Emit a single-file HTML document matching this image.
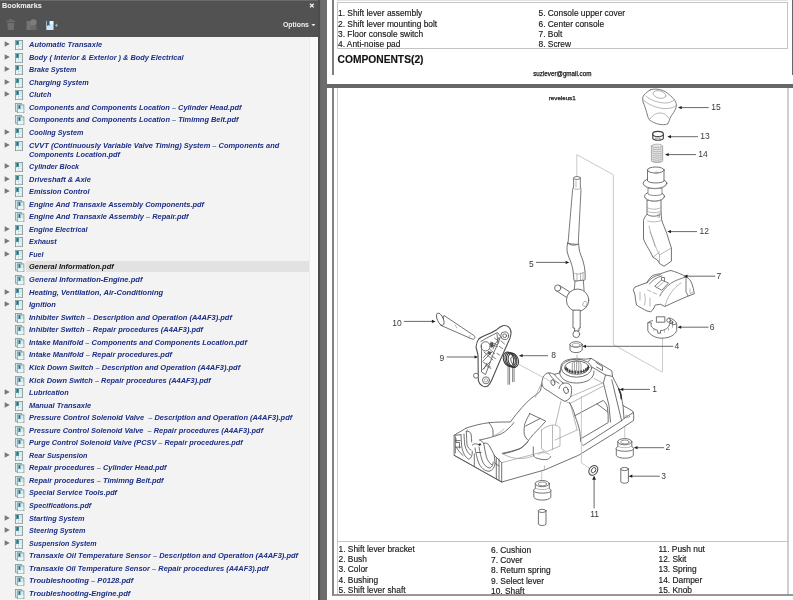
<!DOCTYPE html>
<html><head><meta charset="utf-8"><title>Bookmarks</title>
<style>
html,body{margin:0;padding:0;}
body{width:793px;height:600px;overflow:hidden;position:relative;background:#676767;font-family:"Liberation Sans",sans-serif;}
.abs{position:absolute;}
#hdr{left:0;top:0;width:318.2px;height:36.5px;background:#525252;}
#hdr .t{left:2px;top:0.5px;font-weight:bold;font-size:7.3px;color:#f4f4f4;line-height:10px;}
#hdr .o{left:282.6px;top:20.1px;font-weight:bold;font-size:7.3px;color:#f0f0f0;line-height:10px;transform:scaleX(0.94);transform-origin:0 50%;}
#pbody{left:0;top:36.5px;width:318.2px;height:563.5px;background:#f3f3f3;}
#sb{left:308.8px;top:36.5px;width:9.2px;height:563.5px;background:#fafafa;border-left:1px solid #ececec;box-sizing:border-box;}
#div1{left:317.9px;top:0;width:2.6px;height:600px;background:#4c4c4c;}
#div2{left:320.5px;top:0;width:6.9px;height:600px;background:#6c6c6c;}
#pg1{left:327.4px;top:0;width:465.6px;height:83.6px;background:#fff;}
#pg2{left:327.4px;top:88.3px;width:465.6px;height:511.7px;background:#fff;}
.bm{position:absolute;left:28.9px;white-space:pre;font-style:italic;font-weight:bold;font-size:7.5px;line-height:10px;height:10px;color:#1c2e85;transform-origin:0 50%;}
.ar{position:absolute;left:4.8px;width:0;height:0;border-left:5px solid #7b7b7b;border-top:2.7px solid transparent;border-bottom:2.7px solid transparent;}
.ic{position:absolute;left:15.3px;width:8px;height:10px;}
.dt{position:absolute;white-space:pre;color:#151515;-webkit-text-stroke:0.15px #222;font-size:8.4px;line-height:10px;transform-origin:0 50%;}
#w{position:absolute;left:0;top:0;width:793px;height:600px;overflow:hidden;filter:url(#pgb);}
</style></head><body>
<svg width="0" height="0" style="position:absolute"><defs><filter id="pgb" x="0" y="0" width="100%" height="100%" color-interpolation-filters="sRGB"><feGaussianBlur stdDeviation="0.45" edgeMode="duplicate"/></filter></defs></svg>
<div id="w">
<div id="hdr" class="abs"><div class="abs" style="left:0;top:0;width:319px;height:1px;background:#6a6a6a"></div><div class="abs t">Bookmarks</div><div class="abs o">Options</div>
<svg class="abs" style="left:0;top:0;width:319px;height:37px" viewBox="0 0 319 37">
<!-- trash -->
<g fill="#6f6f6f"><rect x="6.5" y="20.5" width="8.5" height="1.6"/><rect x="9.3" y="19" width="3" height="1.6"/><path d="M7.3 23h7l-0.5 7h-6z"/></g>
<!-- second icon -->
<g fill="#737373"><rect x="26.5" y="21" width="6" height="9"/><circle cx="33.5" cy="22.5" r="3.2" fill="#7d7d7d"/><rect x="30" y="26" width="6.5" height="4" fill="#6a6a6a"/></g>
<!-- new bookmark icon -->
<rect x="46.3" y="21" width="7.2" height="9" fill="#cfe6f7"/>
<path d="M47 21h2.6v5l-1.3-1.1-1.3 1.1z" fill="#2c5e86"/>
<rect x="49.8" y="21.2" width="3.3" height="3" fill="#eef7fd"/>
<path d="M56.5 23.8v3M55 25.3h3" stroke="#8fa9bd" stroke-width="1"/>
<!-- options arrow -->
<path d="M311.4 23.9h4l-2 2.3z" fill="#f0f0f0"/>
<!-- close x -->
<path d="M310 3.7l3.7 3.7M313.7 3.7l-3.7 3.7" stroke="#f2f2f2" stroke-width="1.3"/>
</svg>

</div>
<div id="pbody" class="abs"></div>
<div id="sb" class="abs"></div>
<div id="div1" class="abs"></div><div id="div2" class="abs"></div>
<div id="pg1" class="abs"></div><div id="pg2" class="abs"></div>

<div class="abs" style="left:26px;top:260.9px;width:283px;height:11px;background:#e2e2e2"></div>
<div class="bm" style="top:40.4px;transform:scaleX(0.9927)">Automatic Transaxle</div>
<svg class="abs" style="left:4px;top:41.4px;width:7px;height:6px" viewBox="0 0 7 6"><path d="M0.7 0.2L5.8 3L0.7 5.8z" fill="#787878"/></svg>
<svg class="ic" style="top:40.3px" viewBox="0 0 8 10"><defs></defs><rect x="0.4" y="0.4" width="7.2" height="9.2" fill="#d3ebee" stroke="#7f9396" stroke-width="0.8"/><rect x="1" y="5" width="6" height="4.2" fill="#e9f6f7"/><path d="M1.3 0.9h2.4v4.6l-1.2-1-1.2 1z" fill="#1f6f7d"/><rect x="3.4" y="6.2" width="3.2" height="2.2" fill="#fff" stroke="#a9c1c4" stroke-width="0.4"/></svg>
<div class="bm" style="top:52.9px;transform:scaleX(0.9814)">Body ( Interior &amp; Exterior ) &amp; Body Electrical</div>
<svg class="abs" style="left:4px;top:53.9px;width:7px;height:6px" viewBox="0 0 7 6"><path d="M0.7 0.2L5.8 3L0.7 5.8z" fill="#787878"/></svg>
<svg class="ic" style="top:52.8px" viewBox="0 0 8 10"><defs></defs><rect x="0.4" y="0.4" width="7.2" height="9.2" fill="#d3ebee" stroke="#7f9396" stroke-width="0.8"/><rect x="1" y="5" width="6" height="4.2" fill="#e9f6f7"/><path d="M1.3 0.9h2.4v4.6l-1.2-1-1.2 1z" fill="#1f6f7d"/><rect x="3.4" y="6.2" width="3.2" height="2.2" fill="#fff" stroke="#a9c1c4" stroke-width="0.4"/></svg>
<div class="bm" style="top:65.4px;transform:scaleX(0.9533)">Brake System</div>
<svg class="abs" style="left:4px;top:66.4px;width:7px;height:6px" viewBox="0 0 7 6"><path d="M0.7 0.2L5.8 3L0.7 5.8z" fill="#787878"/></svg>
<svg class="ic" style="top:65.3px" viewBox="0 0 8 10"><defs></defs><rect x="0.4" y="0.4" width="7.2" height="9.2" fill="#d3ebee" stroke="#7f9396" stroke-width="0.8"/><rect x="1" y="5" width="6" height="4.2" fill="#e9f6f7"/><path d="M1.3 0.9h2.4v4.6l-1.2-1-1.2 1z" fill="#1f6f7d"/><rect x="3.4" y="6.2" width="3.2" height="2.2" fill="#fff" stroke="#a9c1c4" stroke-width="0.4"/></svg>
<div class="bm" style="top:77.9px;transform:scaleX(0.9678)">Charging System</div>
<svg class="abs" style="left:4px;top:78.9px;width:7px;height:6px" viewBox="0 0 7 6"><path d="M0.7 0.2L5.8 3L0.7 5.8z" fill="#787878"/></svg>
<svg class="ic" style="top:77.8px" viewBox="0 0 8 10"><defs></defs><rect x="0.4" y="0.4" width="7.2" height="9.2" fill="#d3ebee" stroke="#7f9396" stroke-width="0.8"/><rect x="1" y="5" width="6" height="4.2" fill="#e9f6f7"/><path d="M1.3 0.9h2.4v4.6l-1.2-1-1.2 1z" fill="#1f6f7d"/><rect x="3.4" y="6.2" width="3.2" height="2.2" fill="#fff" stroke="#a9c1c4" stroke-width="0.4"/></svg>
<div class="bm" style="top:90.4px;transform:scaleX(0.9558)">Clutch</div>
<svg class="abs" style="left:4px;top:91.4px;width:7px;height:6px" viewBox="0 0 7 6"><path d="M0.7 0.2L5.8 3L0.7 5.8z" fill="#787878"/></svg>
<svg class="ic" style="top:90.3px" viewBox="0 0 8 10"><defs></defs><rect x="0.4" y="0.4" width="7.2" height="9.2" fill="#d3ebee" stroke="#7f9396" stroke-width="0.8"/><rect x="1" y="5" width="6" height="4.2" fill="#e9f6f7"/><path d="M1.3 0.9h2.4v4.6l-1.2-1-1.2 1z" fill="#1f6f7d"/><rect x="3.4" y="6.2" width="3.2" height="2.2" fill="#fff" stroke="#a9c1c4" stroke-width="0.4"/></svg>
<div class="bm" style="top:102.9px;transform:scaleX(0.9883)">Components and Components Location – Cylinder Head.pdf</div>
<svg class="abs" style="left:15.3px;top:102.5px;width:9.4px;height:10.2px" viewBox="0 0 9.4 10.2"><rect x="0.4" y="0.4" width="6" height="7.8" fill="#d8edf0" stroke="#7f9396" stroke-width="0.8"/><rect x="2.3" y="1.9" width="6.6" height="7.9" fill="#d3ebee" stroke="#7f9396" stroke-width="0.8"/><rect x="2.9" y="6" width="5.4" height="3.3" fill="#e9f6f7"/><path d="M3.5 2.3h1.9v4.2l-0.95-0.9-0.95 0.9z" fill="#1f6f7d"/></svg>
<div class="bm" style="top:115.4px;transform:scaleX(0.9889)">Components and Components Location – Timimng Belt.pdf</div>
<svg class="abs" style="left:15.3px;top:115.0px;width:9.4px;height:10.2px" viewBox="0 0 9.4 10.2"><rect x="0.4" y="0.4" width="6" height="7.8" fill="#d8edf0" stroke="#7f9396" stroke-width="0.8"/><rect x="2.3" y="1.9" width="6.6" height="7.9" fill="#d3ebee" stroke="#7f9396" stroke-width="0.8"/><rect x="2.9" y="6" width="5.4" height="3.3" fill="#e9f6f7"/><path d="M3.5 2.3h1.9v4.2l-0.95-0.9-0.95 0.9z" fill="#1f6f7d"/></svg>
<div class="bm" style="top:127.9px;transform:scaleX(0.9579)">Cooling System</div>
<svg class="abs" style="left:4px;top:128.9px;width:7px;height:6px" viewBox="0 0 7 6"><path d="M0.7 0.2L5.8 3L0.7 5.8z" fill="#787878"/></svg>
<svg class="ic" style="top:127.8px" viewBox="0 0 8 10"><defs></defs><rect x="0.4" y="0.4" width="7.2" height="9.2" fill="#d3ebee" stroke="#7f9396" stroke-width="0.8"/><rect x="1" y="5" width="6" height="4.2" fill="#e9f6f7"/><path d="M1.3 0.9h2.4v4.6l-1.2-1-1.2 1z" fill="#1f6f7d"/><rect x="3.4" y="6.2" width="3.2" height="2.2" fill="#fff" stroke="#a9c1c4" stroke-width="0.4"/></svg>
<div class="bm" style="top:140.9px;transform:scaleX(0.9922)">CVVT (Continuously Variable Valve Timing) System – Components and</div>
<svg class="abs" style="left:4px;top:141.9px;width:7px;height:6px" viewBox="0 0 7 6"><path d="M0.7 0.2L5.8 3L0.7 5.8z" fill="#787878"/></svg>
<svg class="ic" style="top:140.8px" viewBox="0 0 8 10"><defs></defs><rect x="0.4" y="0.4" width="7.2" height="9.2" fill="#d3ebee" stroke="#7f9396" stroke-width="0.8"/><rect x="1" y="5" width="6" height="4.2" fill="#e9f6f7"/><path d="M1.3 0.9h2.4v4.6l-1.2-1-1.2 1z" fill="#1f6f7d"/><rect x="3.4" y="6.2" width="3.2" height="2.2" fill="#fff" stroke="#a9c1c4" stroke-width="0.4"/></svg>
<div class="bm" style="top:149.9px;transform:scaleX(0.9794)">Components Location.pdf</div>
<div class="bm" style="top:162.4px;transform:scaleX(0.9539)">Cylinder Block</div>
<svg class="abs" style="left:4px;top:163.4px;width:7px;height:6px" viewBox="0 0 7 6"><path d="M0.7 0.2L5.8 3L0.7 5.8z" fill="#787878"/></svg>
<svg class="ic" style="top:162.3px" viewBox="0 0 8 10"><defs></defs><rect x="0.4" y="0.4" width="7.2" height="9.2" fill="#d3ebee" stroke="#7f9396" stroke-width="0.8"/><rect x="1" y="5" width="6" height="4.2" fill="#e9f6f7"/><path d="M1.3 0.9h2.4v4.6l-1.2-1-1.2 1z" fill="#1f6f7d"/><rect x="3.4" y="6.2" width="3.2" height="2.2" fill="#fff" stroke="#a9c1c4" stroke-width="0.4"/></svg>
<div class="bm" style="top:174.9px;transform:scaleX(0.9995)">Driveshaft &amp; Axle</div>
<svg class="abs" style="left:4px;top:175.9px;width:7px;height:6px" viewBox="0 0 7 6"><path d="M0.7 0.2L5.8 3L0.7 5.8z" fill="#787878"/></svg>
<svg class="ic" style="top:174.8px" viewBox="0 0 8 10"><defs></defs><rect x="0.4" y="0.4" width="7.2" height="9.2" fill="#d3ebee" stroke="#7f9396" stroke-width="0.8"/><rect x="1" y="5" width="6" height="4.2" fill="#e9f6f7"/><path d="M1.3 0.9h2.4v4.6l-1.2-1-1.2 1z" fill="#1f6f7d"/><rect x="3.4" y="6.2" width="3.2" height="2.2" fill="#fff" stroke="#a9c1c4" stroke-width="0.4"/></svg>
<div class="bm" style="top:187.4px;transform:scaleX(0.9759)">Emission Control</div>
<svg class="abs" style="left:4px;top:188.4px;width:7px;height:6px" viewBox="0 0 7 6"><path d="M0.7 0.2L5.8 3L0.7 5.8z" fill="#787878"/></svg>
<svg class="ic" style="top:187.3px" viewBox="0 0 8 10"><defs></defs><rect x="0.4" y="0.4" width="7.2" height="9.2" fill="#d3ebee" stroke="#7f9396" stroke-width="0.8"/><rect x="1" y="5" width="6" height="4.2" fill="#e9f6f7"/><path d="M1.3 0.9h2.4v4.6l-1.2-1-1.2 1z" fill="#1f6f7d"/><rect x="3.4" y="6.2" width="3.2" height="2.2" fill="#fff" stroke="#a9c1c4" stroke-width="0.4"/></svg>
<div class="bm" style="top:199.9px;transform:scaleX(0.9873)">Engine And Transaxle Assembly Components.pdf</div>
<svg class="abs" style="left:15.3px;top:199.5px;width:9.4px;height:10.2px" viewBox="0 0 9.4 10.2"><rect x="0.4" y="0.4" width="6" height="7.8" fill="#d8edf0" stroke="#7f9396" stroke-width="0.8"/><rect x="2.3" y="1.9" width="6.6" height="7.9" fill="#d3ebee" stroke="#7f9396" stroke-width="0.8"/><rect x="2.9" y="6" width="5.4" height="3.3" fill="#e9f6f7"/><path d="M3.5 2.3h1.9v4.2l-0.95-0.9-0.95 0.9z" fill="#1f6f7d"/></svg>
<div class="bm" style="top:212.2px;transform:scaleX(0.9937)">Engine And Transaxle Assembly – Repair.pdf</div>
<svg class="abs" style="left:15.3px;top:211.8px;width:9.4px;height:10.2px" viewBox="0 0 9.4 10.2"><rect x="0.4" y="0.4" width="6" height="7.8" fill="#d8edf0" stroke="#7f9396" stroke-width="0.8"/><rect x="2.3" y="1.9" width="6.6" height="7.9" fill="#d3ebee" stroke="#7f9396" stroke-width="0.8"/><rect x="2.9" y="6" width="5.4" height="3.3" fill="#e9f6f7"/><path d="M3.5 2.3h1.9v4.2l-0.95-0.9-0.95 0.9z" fill="#1f6f7d"/></svg>
<div class="bm" style="top:224.9px;transform:scaleX(0.9678)">Engine Electrical</div>
<svg class="abs" style="left:4px;top:225.9px;width:7px;height:6px" viewBox="0 0 7 6"><path d="M0.7 0.2L5.8 3L0.7 5.8z" fill="#787878"/></svg>
<svg class="ic" style="top:224.8px" viewBox="0 0 8 10"><defs></defs><rect x="0.4" y="0.4" width="7.2" height="9.2" fill="#d3ebee" stroke="#7f9396" stroke-width="0.8"/><rect x="1" y="5" width="6" height="4.2" fill="#e9f6f7"/><path d="M1.3 0.9h2.4v4.6l-1.2-1-1.2 1z" fill="#1f6f7d"/><rect x="3.4" y="6.2" width="3.2" height="2.2" fill="#fff" stroke="#a9c1c4" stroke-width="0.4"/></svg>
<div class="bm" style="top:237.4px;transform:scaleX(0.9493)">Exhaust</div>
<svg class="abs" style="left:4px;top:238.4px;width:7px;height:6px" viewBox="0 0 7 6"><path d="M0.7 0.2L5.8 3L0.7 5.8z" fill="#787878"/></svg>
<svg class="ic" style="top:237.3px" viewBox="0 0 8 10"><defs></defs><rect x="0.4" y="0.4" width="7.2" height="9.2" fill="#d3ebee" stroke="#7f9396" stroke-width="0.8"/><rect x="1" y="5" width="6" height="4.2" fill="#e9f6f7"/><path d="M1.3 0.9h2.4v4.6l-1.2-1-1.2 1z" fill="#1f6f7d"/><rect x="3.4" y="6.2" width="3.2" height="2.2" fill="#fff" stroke="#a9c1c4" stroke-width="0.4"/></svg>
<div class="bm" style="top:249.9px;transform:scaleX(0.9337)">Fuel</div>
<svg class="abs" style="left:4px;top:250.9px;width:7px;height:6px" viewBox="0 0 7 6"><path d="M0.7 0.2L5.8 3L0.7 5.8z" fill="#787878"/></svg>
<svg class="ic" style="top:249.8px" viewBox="0 0 8 10"><defs></defs><rect x="0.4" y="0.4" width="7.2" height="9.2" fill="#d3ebee" stroke="#7f9396" stroke-width="0.8"/><rect x="1" y="5" width="6" height="4.2" fill="#e9f6f7"/><path d="M1.3 0.9h2.4v4.6l-1.2-1-1.2 1z" fill="#1f6f7d"/><rect x="3.4" y="6.2" width="3.2" height="2.2" fill="#fff" stroke="#a9c1c4" stroke-width="0.4"/></svg>
<div class="bm" style="top:262.4px;color:#111;transform:scaleX(0.9964)">General Information.pdf</div>
<svg class="abs" style="left:15.3px;top:262.0px;width:9.4px;height:10.2px" viewBox="0 0 9.4 10.2"><rect x="0.4" y="0.4" width="6" height="7.8" fill="#d8edf0" stroke="#7f9396" stroke-width="0.8"/><rect x="2.3" y="1.9" width="6.6" height="7.9" fill="#d3ebee" stroke="#7f9396" stroke-width="0.8"/><rect x="2.9" y="6" width="5.4" height="3.3" fill="#e9f6f7"/><path d="M3.5 2.3h1.9v4.2l-0.95-0.9-0.95 0.9z" fill="#1f6f7d"/></svg>
<div class="bm" style="top:275.4px;transform:scaleX(1.0079)">General Information-Engine.pdf</div>
<svg class="abs" style="left:15.3px;top:275.0px;width:9.4px;height:10.2px" viewBox="0 0 9.4 10.2"><rect x="0.4" y="0.4" width="6" height="7.8" fill="#d8edf0" stroke="#7f9396" stroke-width="0.8"/><rect x="2.3" y="1.9" width="6.6" height="7.9" fill="#d3ebee" stroke="#7f9396" stroke-width="0.8"/><rect x="2.9" y="6" width="5.4" height="3.3" fill="#e9f6f7"/><path d="M3.5 2.3h1.9v4.2l-0.95-0.9-0.95 0.9z" fill="#1f6f7d"/></svg>
<div class="bm" style="top:287.9px;transform:scaleX(1.0107)">Heating, Ventilation, Air-Conditioning</div>
<svg class="abs" style="left:4px;top:288.9px;width:7px;height:6px" viewBox="0 0 7 6"><path d="M0.7 0.2L5.8 3L0.7 5.8z" fill="#787878"/></svg>
<svg class="ic" style="top:287.8px" viewBox="0 0 8 10"><defs></defs><rect x="0.4" y="0.4" width="7.2" height="9.2" fill="#d3ebee" stroke="#7f9396" stroke-width="0.8"/><rect x="1" y="5" width="6" height="4.2" fill="#e9f6f7"/><path d="M1.3 0.9h2.4v4.6l-1.2-1-1.2 1z" fill="#1f6f7d"/><rect x="3.4" y="6.2" width="3.2" height="2.2" fill="#fff" stroke="#a9c1c4" stroke-width="0.4"/></svg>
<div class="bm" style="top:300.4px;transform:scaleX(0.9933)">Ignition</div>
<svg class="abs" style="left:4px;top:301.4px;width:7px;height:6px" viewBox="0 0 7 6"><path d="M0.7 0.2L5.8 3L0.7 5.8z" fill="#787878"/></svg>
<svg class="ic" style="top:300.3px" viewBox="0 0 8 10"><defs></defs><rect x="0.4" y="0.4" width="7.2" height="9.2" fill="#d3ebee" stroke="#7f9396" stroke-width="0.8"/><rect x="1" y="5" width="6" height="4.2" fill="#e9f6f7"/><path d="M1.3 0.9h2.4v4.6l-1.2-1-1.2 1z" fill="#1f6f7d"/><rect x="3.4" y="6.2" width="3.2" height="2.2" fill="#fff" stroke="#a9c1c4" stroke-width="0.4"/></svg>
<div class="bm" style="top:312.9px;transform:scaleX(0.9998)">Inhibiter Switch – Description and Operation (A4AF3).pdf</div>
<svg class="abs" style="left:15.3px;top:312.5px;width:9.4px;height:10.2px" viewBox="0 0 9.4 10.2"><rect x="0.4" y="0.4" width="6" height="7.8" fill="#d8edf0" stroke="#7f9396" stroke-width="0.8"/><rect x="2.3" y="1.9" width="6.6" height="7.9" fill="#d3ebee" stroke="#7f9396" stroke-width="0.8"/><rect x="2.9" y="6" width="5.4" height="3.3" fill="#e9f6f7"/><path d="M3.5 2.3h1.9v4.2l-0.95-0.9-0.95 0.9z" fill="#1f6f7d"/></svg>
<div class="bm" style="top:325.4px;transform:scaleX(0.9947)">Inhibiter Switch – Repair procedures (A4AF3).pdf</div>
<svg class="abs" style="left:15.3px;top:325.0px;width:9.4px;height:10.2px" viewBox="0 0 9.4 10.2"><rect x="0.4" y="0.4" width="6" height="7.8" fill="#d8edf0" stroke="#7f9396" stroke-width="0.8"/><rect x="2.3" y="1.9" width="6.6" height="7.9" fill="#d3ebee" stroke="#7f9396" stroke-width="0.8"/><rect x="2.9" y="6" width="5.4" height="3.3" fill="#e9f6f7"/><path d="M3.5 2.3h1.9v4.2l-0.95-0.9-0.95 0.9z" fill="#1f6f7d"/></svg>
<div class="bm" style="top:337.9px;transform:scaleX(0.9942)">Intake Manifold – Components and Components Location.pdf</div>
<svg class="abs" style="left:15.3px;top:337.5px;width:9.4px;height:10.2px" viewBox="0 0 9.4 10.2"><rect x="0.4" y="0.4" width="6" height="7.8" fill="#d8edf0" stroke="#7f9396" stroke-width="0.8"/><rect x="2.3" y="1.9" width="6.6" height="7.9" fill="#d3ebee" stroke="#7f9396" stroke-width="0.8"/><rect x="2.9" y="6" width="5.4" height="3.3" fill="#e9f6f7"/><path d="M3.5 2.3h1.9v4.2l-0.95-0.9-0.95 0.9z" fill="#1f6f7d"/></svg>
<div class="bm" style="top:350.4px;transform:scaleX(1.0004)">Intake Manifold – Repair procedures.pdf</div>
<svg class="abs" style="left:15.3px;top:350.0px;width:9.4px;height:10.2px" viewBox="0 0 9.4 10.2"><rect x="0.4" y="0.4" width="6" height="7.8" fill="#d8edf0" stroke="#7f9396" stroke-width="0.8"/><rect x="2.3" y="1.9" width="6.6" height="7.9" fill="#d3ebee" stroke="#7f9396" stroke-width="0.8"/><rect x="2.9" y="6" width="5.4" height="3.3" fill="#e9f6f7"/><path d="M3.5 2.3h1.9v4.2l-0.95-0.9-0.95 0.9z" fill="#1f6f7d"/></svg>
<div class="bm" style="top:362.9px;transform:scaleX(0.9976)">Kick Down Switch – Description and Operation (A4AF3).pdf</div>
<svg class="abs" style="left:15.3px;top:362.5px;width:9.4px;height:10.2px" viewBox="0 0 9.4 10.2"><rect x="0.4" y="0.4" width="6" height="7.8" fill="#d8edf0" stroke="#7f9396" stroke-width="0.8"/><rect x="2.3" y="1.9" width="6.6" height="7.9" fill="#d3ebee" stroke="#7f9396" stroke-width="0.8"/><rect x="2.9" y="6" width="5.4" height="3.3" fill="#e9f6f7"/><path d="M3.5 2.3h1.9v4.2l-0.95-0.9-0.95 0.9z" fill="#1f6f7d"/></svg>
<div class="bm" style="top:375.9px;transform:scaleX(0.9887)">Kick Down Switch – Repair procedures (A4AF3).pdf</div>
<svg class="abs" style="left:15.3px;top:375.5px;width:9.4px;height:10.2px" viewBox="0 0 9.4 10.2"><rect x="0.4" y="0.4" width="6" height="7.8" fill="#d8edf0" stroke="#7f9396" stroke-width="0.8"/><rect x="2.3" y="1.9" width="6.6" height="7.9" fill="#d3ebee" stroke="#7f9396" stroke-width="0.8"/><rect x="2.9" y="6" width="5.4" height="3.3" fill="#e9f6f7"/><path d="M3.5 2.3h1.9v4.2l-0.95-0.9-0.95 0.9z" fill="#1f6f7d"/></svg>
<div class="bm" style="top:388.4px;transform:scaleX(0.9745)">Lubrication</div>
<svg class="abs" style="left:4px;top:389.4px;width:7px;height:6px" viewBox="0 0 7 6"><path d="M0.7 0.2L5.8 3L0.7 5.8z" fill="#787878"/></svg>
<svg class="ic" style="top:388.3px" viewBox="0 0 8 10"><defs></defs><rect x="0.4" y="0.4" width="7.2" height="9.2" fill="#d3ebee" stroke="#7f9396" stroke-width="0.8"/><rect x="1" y="5" width="6" height="4.2" fill="#e9f6f7"/><path d="M1.3 0.9h2.4v4.6l-1.2-1-1.2 1z" fill="#1f6f7d"/><rect x="3.4" y="6.2" width="3.2" height="2.2" fill="#fff" stroke="#a9c1c4" stroke-width="0.4"/></svg>
<div class="bm" style="top:400.9px;transform:scaleX(0.9902)">Manual Transaxle</div>
<svg class="abs" style="left:4px;top:401.9px;width:7px;height:6px" viewBox="0 0 7 6"><path d="M0.7 0.2L5.8 3L0.7 5.8z" fill="#787878"/></svg>
<svg class="ic" style="top:400.8px" viewBox="0 0 8 10"><defs></defs><rect x="0.4" y="0.4" width="7.2" height="9.2" fill="#d3ebee" stroke="#7f9396" stroke-width="0.8"/><rect x="1" y="5" width="6" height="4.2" fill="#e9f6f7"/><path d="M1.3 0.9h2.4v4.6l-1.2-1-1.2 1z" fill="#1f6f7d"/><rect x="3.4" y="6.2" width="3.2" height="2.2" fill="#fff" stroke="#a9c1c4" stroke-width="0.4"/></svg>
<div class="bm" style="top:413.4px;transform:scaleX(0.9925)">Pressure Control Solenoid Valve  – Description and Operation (A4AF3).pdf</div>
<svg class="abs" style="left:15.3px;top:413.0px;width:9.4px;height:10.2px" viewBox="0 0 9.4 10.2"><rect x="0.4" y="0.4" width="6" height="7.8" fill="#d8edf0" stroke="#7f9396" stroke-width="0.8"/><rect x="2.3" y="1.9" width="6.6" height="7.9" fill="#d3ebee" stroke="#7f9396" stroke-width="0.8"/><rect x="2.9" y="6" width="5.4" height="3.3" fill="#e9f6f7"/><path d="M3.5 2.3h1.9v4.2l-0.95-0.9-0.95 0.9z" fill="#1f6f7d"/></svg>
<div class="bm" style="top:425.9px;transform:scaleX(0.9866)">Pressure Control Solenoid Valve  – Repair procedures (A4AF3).pdf</div>
<svg class="abs" style="left:15.3px;top:425.5px;width:9.4px;height:10.2px" viewBox="0 0 9.4 10.2"><rect x="0.4" y="0.4" width="6" height="7.8" fill="#d8edf0" stroke="#7f9396" stroke-width="0.8"/><rect x="2.3" y="1.9" width="6.6" height="7.9" fill="#d3ebee" stroke="#7f9396" stroke-width="0.8"/><rect x="2.9" y="6" width="5.4" height="3.3" fill="#e9f6f7"/><path d="M3.5 2.3h1.9v4.2l-0.95-0.9-0.95 0.9z" fill="#1f6f7d"/></svg>
<div class="bm" style="top:438.4px;transform:scaleX(0.9779)">Purge Control Solenoid Valve (PCSV – Repair procedures.pdf</div>
<svg class="abs" style="left:15.3px;top:438.0px;width:9.4px;height:10.2px" viewBox="0 0 9.4 10.2"><rect x="0.4" y="0.4" width="6" height="7.8" fill="#d8edf0" stroke="#7f9396" stroke-width="0.8"/><rect x="2.3" y="1.9" width="6.6" height="7.9" fill="#d3ebee" stroke="#7f9396" stroke-width="0.8"/><rect x="2.9" y="6" width="5.4" height="3.3" fill="#e9f6f7"/><path d="M3.5 2.3h1.9v4.2l-0.95-0.9-0.95 0.9z" fill="#1f6f7d"/></svg>
<div class="bm" style="top:450.9px;transform:scaleX(0.9547)">Rear Suspension</div>
<svg class="abs" style="left:4px;top:451.9px;width:7px;height:6px" viewBox="0 0 7 6"><path d="M0.7 0.2L5.8 3L0.7 5.8z" fill="#787878"/></svg>
<svg class="ic" style="top:450.8px" viewBox="0 0 8 10"><defs></defs><rect x="0.4" y="0.4" width="7.2" height="9.2" fill="#d3ebee" stroke="#7f9396" stroke-width="0.8"/><rect x="1" y="5" width="6" height="4.2" fill="#e9f6f7"/><path d="M1.3 0.9h2.4v4.6l-1.2-1-1.2 1z" fill="#1f6f7d"/><rect x="3.4" y="6.2" width="3.2" height="2.2" fill="#fff" stroke="#a9c1c4" stroke-width="0.4"/></svg>
<div class="bm" style="top:463.4px;transform:scaleX(0.9914)">Repair procedures – Cylinder Head.pdf</div>
<svg class="abs" style="left:15.3px;top:463.0px;width:9.4px;height:10.2px" viewBox="0 0 9.4 10.2"><rect x="0.4" y="0.4" width="6" height="7.8" fill="#d8edf0" stroke="#7f9396" stroke-width="0.8"/><rect x="2.3" y="1.9" width="6.6" height="7.9" fill="#d3ebee" stroke="#7f9396" stroke-width="0.8"/><rect x="2.9" y="6" width="5.4" height="3.3" fill="#e9f6f7"/><path d="M3.5 2.3h1.9v4.2l-0.95-0.9-0.95 0.9z" fill="#1f6f7d"/></svg>
<div class="bm" style="top:475.9px;transform:scaleX(0.9917)">Repair procedures – Timimng Belt.pdf</div>
<svg class="abs" style="left:15.3px;top:475.5px;width:9.4px;height:10.2px" viewBox="0 0 9.4 10.2"><rect x="0.4" y="0.4" width="6" height="7.8" fill="#d8edf0" stroke="#7f9396" stroke-width="0.8"/><rect x="2.3" y="1.9" width="6.6" height="7.9" fill="#d3ebee" stroke="#7f9396" stroke-width="0.8"/><rect x="2.9" y="6" width="5.4" height="3.3" fill="#e9f6f7"/><path d="M3.5 2.3h1.9v4.2l-0.95-0.9-0.95 0.9z" fill="#1f6f7d"/></svg>
<div class="bm" style="top:488.4px;transform:scaleX(0.9715)">Special Service Tools.pdf</div>
<svg class="abs" style="left:15.3px;top:488.0px;width:9.4px;height:10.2px" viewBox="0 0 9.4 10.2"><rect x="0.4" y="0.4" width="6" height="7.8" fill="#d8edf0" stroke="#7f9396" stroke-width="0.8"/><rect x="2.3" y="1.9" width="6.6" height="7.9" fill="#d3ebee" stroke="#7f9396" stroke-width="0.8"/><rect x="2.9" y="6" width="5.4" height="3.3" fill="#e9f6f7"/><path d="M3.5 2.3h1.9v4.2l-0.95-0.9-0.95 0.9z" fill="#1f6f7d"/></svg>
<div class="bm" style="top:500.9px;transform:scaleX(0.9629)">Specifications.pdf</div>
<svg class="abs" style="left:15.3px;top:500.5px;width:9.4px;height:10.2px" viewBox="0 0 9.4 10.2"><rect x="0.4" y="0.4" width="6" height="7.8" fill="#d8edf0" stroke="#7f9396" stroke-width="0.8"/><rect x="2.3" y="1.9" width="6.6" height="7.9" fill="#d3ebee" stroke="#7f9396" stroke-width="0.8"/><rect x="2.9" y="6" width="5.4" height="3.3" fill="#e9f6f7"/><path d="M3.5 2.3h1.9v4.2l-0.95-0.9-0.95 0.9z" fill="#1f6f7d"/></svg>
<div class="bm" style="top:513.7px;transform:scaleX(0.9736)">Starting System</div>
<svg class="abs" style="left:4px;top:514.7px;width:7px;height:6px" viewBox="0 0 7 6"><path d="M0.7 0.2L5.8 3L0.7 5.8z" fill="#787878"/></svg>
<svg class="ic" style="top:513.6px" viewBox="0 0 8 10"><defs></defs><rect x="0.4" y="0.4" width="7.2" height="9.2" fill="#d3ebee" stroke="#7f9396" stroke-width="0.8"/><rect x="1" y="5" width="6" height="4.2" fill="#e9f6f7"/><path d="M1.3 0.9h2.4v4.6l-1.2-1-1.2 1z" fill="#1f6f7d"/><rect x="3.4" y="6.2" width="3.2" height="2.2" fill="#fff" stroke="#a9c1c4" stroke-width="0.4"/></svg>
<div class="bm" style="top:526.2px;transform:scaleX(0.9595)">Steering System</div>
<svg class="abs" style="left:4px;top:527.2px;width:7px;height:6px" viewBox="0 0 7 6"><path d="M0.7 0.2L5.8 3L0.7 5.8z" fill="#787878"/></svg>
<svg class="ic" style="top:526.1px" viewBox="0 0 8 10"><defs></defs><rect x="0.4" y="0.4" width="7.2" height="9.2" fill="#d3ebee" stroke="#7f9396" stroke-width="0.8"/><rect x="1" y="5" width="6" height="4.2" fill="#e9f6f7"/><path d="M1.3 0.9h2.4v4.6l-1.2-1-1.2 1z" fill="#1f6f7d"/><rect x="3.4" y="6.2" width="3.2" height="2.2" fill="#fff" stroke="#a9c1c4" stroke-width="0.4"/></svg>
<div class="bm" style="top:538.9px;transform:scaleX(0.9485)">Suspension System</div>
<svg class="abs" style="left:4px;top:539.9px;width:7px;height:6px" viewBox="0 0 7 6"><path d="M0.7 0.2L5.8 3L0.7 5.8z" fill="#787878"/></svg>
<svg class="ic" style="top:538.8px" viewBox="0 0 8 10"><defs></defs><rect x="0.4" y="0.4" width="7.2" height="9.2" fill="#d3ebee" stroke="#7f9396" stroke-width="0.8"/><rect x="1" y="5" width="6" height="4.2" fill="#e9f6f7"/><path d="M1.3 0.9h2.4v4.6l-1.2-1-1.2 1z" fill="#1f6f7d"/><rect x="3.4" y="6.2" width="3.2" height="2.2" fill="#fff" stroke="#a9c1c4" stroke-width="0.4"/></svg>
<div class="bm" style="top:551.4px;transform:scaleX(1.0011)">Transaxle Oil Temperature Sensor – Description and Operation (A4AF3).pdf</div>
<svg class="abs" style="left:15.3px;top:551.0px;width:9.4px;height:10.2px" viewBox="0 0 9.4 10.2"><rect x="0.4" y="0.4" width="6" height="7.8" fill="#d8edf0" stroke="#7f9396" stroke-width="0.8"/><rect x="2.3" y="1.9" width="6.6" height="7.9" fill="#d3ebee" stroke="#7f9396" stroke-width="0.8"/><rect x="2.9" y="6" width="5.4" height="3.3" fill="#e9f6f7"/><path d="M3.5 2.3h1.9v4.2l-0.95-0.9-0.95 0.9z" fill="#1f6f7d"/></svg>
<div class="bm" style="top:563.9px;transform:scaleX(0.9941)">Transaxle Oil Temperature Sensor – Repair procedures (A4AF3).pdf</div>
<svg class="abs" style="left:15.3px;top:563.5px;width:9.4px;height:10.2px" viewBox="0 0 9.4 10.2"><rect x="0.4" y="0.4" width="6" height="7.8" fill="#d8edf0" stroke="#7f9396" stroke-width="0.8"/><rect x="2.3" y="1.9" width="6.6" height="7.9" fill="#d3ebee" stroke="#7f9396" stroke-width="0.8"/><rect x="2.9" y="6" width="5.4" height="3.3" fill="#e9f6f7"/><path d="M3.5 2.3h1.9v4.2l-0.95-0.9-0.95 0.9z" fill="#1f6f7d"/></svg>
<div class="bm" style="top:576.4px;transform:scaleX(1.0146)">Troubleshooting – P0128.pdf</div>
<svg class="abs" style="left:15.3px;top:576.0px;width:9.4px;height:10.2px" viewBox="0 0 9.4 10.2"><rect x="0.4" y="0.4" width="6" height="7.8" fill="#d8edf0" stroke="#7f9396" stroke-width="0.8"/><rect x="2.3" y="1.9" width="6.6" height="7.9" fill="#d3ebee" stroke="#7f9396" stroke-width="0.8"/><rect x="2.9" y="6" width="5.4" height="3.3" fill="#e9f6f7"/><path d="M3.5 2.3h1.9v4.2l-0.95-0.9-0.95 0.9z" fill="#1f6f7d"/></svg>
<div class="bm" style="top:588.9px;transform:scaleX(1.0113)">Troubleshooting-Engine.pdf</div>
<svg class="abs" style="left:15.3px;top:588.5px;width:9.4px;height:10.2px" viewBox="0 0 9.4 10.2"><rect x="0.4" y="0.4" width="6" height="7.8" fill="#d8edf0" stroke="#7f9396" stroke-width="0.8"/><rect x="2.3" y="1.9" width="6.6" height="7.9" fill="#d3ebee" stroke="#7f9396" stroke-width="0.8"/><rect x="2.9" y="6" width="5.4" height="3.3" fill="#e9f6f7"/><path d="M3.5 2.3h1.9v4.2l-0.95-0.9-0.95 0.9z" fill="#1f6f7d"/></svg>
<!-- page 1 -->
<div class="abs" style="left:332.4px;top:0;width:1.6px;height:74.5px;background:#808080"></div>
<div class="abs" style="left:791.8px;top:0;width:1.2px;height:74.5px;background:#666"></div>
<div class="abs" style="left:337px;top:1.5px;width:450.5px;height:47.3px;border:1px solid #c4c4c4;box-sizing:border-box"></div>
<div class="abs" style="left:337px;top:0;width:450.5px;height:1px;background:#e2e2e2"></div>
<div class="dt" style="left:338px;top:8.2px">1. Shift lever assembly</div>
<div class="dt" style="left:338px;top:18.5px">2. Shift lever mounting bolt</div>
<div class="dt" style="left:338px;top:28.8px">3. Floor console switch</div>
<div class="dt" style="left:338px;top:39.1px">4. Anti-noise pad</div>
<div class="dt" style="left:538.5px;top:8.2px">5. Console upper cover</div>
<div class="dt" style="left:538.5px;top:18.5px">6. Center console</div>
<div class="dt" style="left:538.5px;top:28.8px">7. Bolt</div>
<div class="dt" style="left:538.5px;top:39.1px">8. Screw</div>
<div class="dt" style="left:337.5px;top:53.6px;font-weight:bold;font-size:10.25px;color:#111;line-height:12px">COMPONENTS(2)</div>
<div class="dt" style="left:533.2px;top:69px;font-size:6.27px;color:#111;-webkit-text-stroke:0.25px #222">suzlever@gmail.com</div>
<!-- page 2 -->
<div class="abs" style="left:332.4px;top:88.3px;width:1.6px;height:508px;background:#838383"></div>
<div class="abs" style="left:337.2px;top:88.3px;width:1.3px;height:507px;background:#cdcdcd"></div>
<div class="abs" style="left:787.3px;top:88.3px;width:1.3px;height:507px;background:#cdcdcd"></div>
<div class="abs" style="left:332.5px;top:594.4px;width:460.5px;height:1.9px;background:#979797"></div>
<div class="abs" style="left:337px;top:540.5px;width:451px;height:1px;background:#c4c4c4"></div>
<div class="dt" style="left:548.8px;top:93.2px;font-size:6.2px;color:#111;-webkit-text-stroke:0.25px #222">reveleus1</div>
<div class="dt" style="left:338.5px;top:543.7px">1. Shift lever bracket</div>
<div class="dt" style="left:338.5px;top:554px">2. Bush</div>
<div class="dt" style="left:338.5px;top:564.3px">3. Color</div>
<div class="dt" style="left:338.5px;top:574.6px">4. Bushing</div>
<div class="dt" style="left:338.5px;top:584.9px">5. Shift lever shaft</div>
<div class="dt" style="left:491px;top:544.7px">6. Cushion</div>
<div class="dt" style="left:491px;top:555px">7. Cover</div>
<div class="dt" style="left:491px;top:565.3px">8. Return spring</div>
<div class="dt" style="left:491px;top:575.6px">9. Select lever</div>
<div class="dt" style="left:491px;top:585.9px">10. Shaft</div>
<div class="dt" style="left:658.5px;top:543.7px">11. Push nut</div>
<div class="dt" style="left:658.5px;top:554px">12. Skit</div>
<div class="dt" style="left:658.5px;top:564.3px">13. Spring</div>
<div class="dt" style="left:658.5px;top:574.6px">14. Damper</div>
<div class="dt" style="left:658.5px;top:584.9px">15. Knob</div>
<svg class="abs" style="left:0;top:0;width:793px;height:600px" viewBox="0 0 793 600">
<defs><filter id="bl" x="-5%" y="-5%" width="110%" height="110%"><feGaussianBlur stdDeviation="0.42"/></filter></defs>
<style>
.o{fill:#fff;stroke:#595959;stroke-width:0.85;stroke-linejoin:round;stroke-linecap:round}
.n{fill:none;stroke:#595959;stroke-width:0.85;stroke-linejoin:round;stroke-linecap:round}
.d{fill:none;stroke:#999;stroke-width:0.7;stroke-linejoin:round;stroke-linecap:round}
.g{fill:none;stroke:#bdbdbd;stroke-width:0.8}
.lo{fill:#fff;stroke:#757575;stroke-width:0.95;stroke-linejoin:round;stroke-linecap:round}
.al{fill:none;stroke:#444;stroke-width:0.8}
.ah{fill:#1e1e1e;stroke:none}
.lb{font-family:"Liberation Sans",sans-serif;font-size:8.5px;fill:#3a3a3a}
</style>
<g filter="url(#bl)">
<path class="g" d="M576.8 176V154.6L613.4 174.8V344.5"/>
<path class="g" d="M613.4 344.5L662 372"/>
<path class="g" d="M662.5 338V372"/>
<path class="g" d="M624.7 421V439"/>
<path class="g" d="M541.7 470V481"/>
<path class="lo" d="M650.7 89.7C654 88.6 660 88.8 665.3 91.7C670 95 675 99 676.2 103.5C677 107 675 111 671.3 115.7C669.5 119 669 122 668 123.7C665 125 662 124.8 659.3 124.3C655 123.4 652 122 649.3 119.7C647.5 117 647 113 646 110.3C645 106 643 103 642.7 99.7C642.5 97 643.5 95 645.3 93.7C647 92 649 90.5 650.7 89.7Z"/>
<path class="d" d="M643 99.5C647 104 655 107.5 663 108.5C669 109 674 107.5 676.5 105.5"/>
<path class="d" d="M646 96C650 100 658 103 666 103C670 102.8 672.5 101.5 674 100"/>
<ellipse class="d" cx="659.5" cy="94.5" rx="6.5" ry="3.6" transform="rotate(14 659.5 94.5)"/>
<path class="d" d="M650 119C653 115 656 113 660 113C664 113 667 115 668.5 118"/>
<path d="M680.5 107.6H708.7" class="al"/>
<path d="M678 107.6l3.7 -1.6v3.2z" class="ah"/>
<text x="711.3" y="110.1" class="lb">15</text>
<path class="o" style="stroke:#3c3c3c;stroke-width:1.1" d="M652.8 134V138.5C654 140.8 662 140.8 663.3 138.5V134Z"/>
<ellipse class="o" style="stroke:#3c3c3c;stroke-width:1.1" cx="658" cy="134" rx="5.3" ry="2.6"/>
<path class="d" d="M655 138.3h5.5M656 136.5v3.5M659.5 136.5v3.5"/>
<path d="M669.8 136.7H698" class="al"/>
<path d="M667.3 136.7l3.7 -1.6v3.2z" class="ah"/>
<text x="700.3" y="139.3" class="lb">13</text>
<path class="d" style="fill:#f4f4f4" d="M651.4 146V160.5C652.5 163.2 661.5 163.2 662.7 160.5V146C661.5 143.5 652.5 143.5 651.4 146Z"/>
<path class="d" d="M651.4 146.5C654 148.1 660 148.1 662.7 146.5"/>
<path class="d" d="M651.4 148.6C654 150.2 660 150.2 662.7 148.6"/>
<path class="d" d="M651.4 150.7C654 152.29999999999998 660 152.29999999999998 662.7 150.7"/>
<path class="d" d="M651.4 152.8C654 154.4 660 154.4 662.7 152.8"/>
<path class="d" d="M651.4 154.9C654 156.5 660 156.5 662.7 154.9"/>
<path class="d" d="M651.4 157C654 158.6 660 158.6 662.7 157"/>
<path class="d" d="M651.4 159.1C654 160.7 660 160.7 662.7 159.1"/>
<path class="d" d="M651.4 161C654 162.6 660 162.6 662.7 161"/>
<path class="d" d="M653.8 145V162M656 145V163M658.2 145V163M660.4 145V162" style="stroke:#b5b5b5;stroke-width:0.5"/>
<path d="M667.5 154.6H696" class="al"/>
<path d="M665 154.6l3.7 -1.6v3.2z" class="ah"/>
<text x="698.3" y="157.2" class="lb">14</text>
<path class="o" d="M647.5 213.5C645.5 216 644 218 643.5 220.5V239C645 243 648 248 650.3 251.7L653 257.3L657.5 260L659.5 263.5L664 266.3L671.4 261.2V248C669.8 243 668 238 666.8 233.4C665 229 663 224 661.8 220.5L661 213Z"/>
<path class="d" d="M647.5 221C652 222.5 657 222 661.8 220.5M649 226C651 236 655 246 659.5 255M659.5 255V263.5M659.5 255L671.4 248M653 257.3L659.5 252M650 232C652 236 654 241 655 246"/>
<path class="o" d="M647 200.5V214C649 217 659 217 661 213.5V200.5Z"/>
<path class="d" d="M647 207.5C650 209.8 658 209.8 661 207.5M647 211C650 213.3 658 213.3 661 211M659.5 213.5v4M658 214v3.5"/>
<ellipse class="o" cx="654.5" cy="196.3" rx="10" ry="4.9"/>
<path class="d" d="M644.7 197.5C647 202.5 662 202.5 664.3 197.5"/>
<path class="o" d="M648 188.5V194C650 196 660 196 662 194V188.5Z" style="stroke-width:0.7"/>
<ellipse class="o" cx="655" cy="183.3" rx="11.9" ry="5.2"/>
<path class="d" d="M643.3 184.5C646 190.3 664 190.3 666.7 184.5"/>
<path class="o" d="M647.5 170V181C650 183.6 661.5 183.6 664 181V170Z"/>
<ellipse class="o" cx="655.8" cy="170" rx="8.3" ry="3"/>
<ellipse class="d" cx="656.5" cy="172.8" rx="1.6" ry="0.9"/>
<path d="M669.8 231.6H697" class="al"/>
<path d="M667.3 231.6l3.7 -1.6v3.2z" class="ah"/>
<text x="699.5" y="234.2" class="lb">12</text>
<path class="o" d="M633.5 289.3L635 287C639 285.5 643 284 647 282.5C648.5 280 650 277.5 652.3 275.8C655 274.5 658 274 660.5 273.8C664 272.5 668 271 671 270.5C676 272 681 274 686 276.5C689 278.5 691 281 692 284C693 287 694 290.5 694.3 293.8L688.3 296C680 299.5 672 303 665 306.5L660.5 304.3L655.3 305C654 308 652.5 310.5 650.8 311.8L647 311C643 309 639.5 307 636.5 305C635.8 301.5 635.3 298.5 635 295.3Z"/>
<path class="n" d="M647 283C650 278.5 655 275.5 660.5 274.6M649.5 284C652.5 279.8 657 277 662 276M659.8 296C664 288 671 282 678.5 279.5C681 278.5 684 277.5 686 277M655 286L661.5 280L668.5 283L662 290ZM661.5 280v-2.5h3v3.8M686 277V292L688.3 296" style="stroke:#666"/>
<path class="d" d="M665 306.5C667 297 673 288 681 283M690 289v4.5l3 -1M647.5 290l3.5 1.5M653 292.5l3.5 1.5M640 292v8M644.5 294c1 3 1 7 0 11M650 298v8M657 287.5l6.5 -5.5"/>
<path d="M686.3 276.2H715.3" class="al"/>
<path d="M683.8 276.2l3.7 -1.6v3.2z" class="ah"/>
<text x="716.6" y="278.8" class="lb">7</text>
<path class="n" d="M647.8 323C649 321.5 651 320.8 652.5 320.6M676.7 323.8C676 321 673 318.8 669 317.8"/>
<path class="o" d="M656.8 316.8H664.8V322.2H656.8Z"/>
<path class="o" d="M647.8 323V330.5C650 335.5 656 338.2 662 338.2C669 338.2 675 335.2 676.7 330.5V323.8L672.5 325V322.5L669.5 323.5C669.5 327.5 665 330.5 660.5 330.5L660.5 333.2L657.8 333.2L657.5 330.3C654 329.5 651.5 327.5 651 325.5L651.3 323.3Z"/>
<path class="d" d="M654 328.5v2.3M664.5 330v2.3M668.5 328v2.3M672.5 325v2.5"/>
<circle class="n" cx="668.6" cy="320.3" r="1.9"/><circle class="n" cx="671.3" cy="322.2" r="1.5"/>
<path d="M680.0 327.2H708.5" class="al"/>
<path d="M677.5 327.2l3.7 -1.6v3.2z" class="ah"/>
<text x="709.8" y="329.8" class="lb">6</text>
<path d="M584.8 346.3H673.3" class="al"/>
<path d="M582.3 346.3l3.7 -1.6v3.2z" class="ah"/>
<text x="674.6" y="349.3" class="lb">4</text>
<path class="lo" d="M573.6 178V187L572.6 189.5L568 243.5L578.2 244.5L581 189.5L580.3 187V178Z"/>
<ellipse class="lo" cx="577" cy="178" rx="3.4" ry="1.5"/>
<path class="d" d="M576 181v6M573 188.5C575 189.6 579 189.6 581 188.5"/>
<path class="o" d="M567.6 243C567 246 566.8 249 567.2 252C568 255.5 569.5 259 570.8 262C572 265.5 573 269 573.2 272.5L574 280.5C577 282.5 582 282 585.2 279.5L585 271.5C584.8 268 584 264.5 583 261C581.8 257 580 253.5 579.3 250C579 247.5 578.8 245.5 578.6 243.8C575 246 570.5 245.5 567.6 243Z"/>
<path class="d" d="M573.2 272.5C576 275 582 274.5 585 271.5M577 273.5v7.5M580.5 273v7.5M583 272.5v7.5"/>
<path class="o" d="M575 281.5L574 292.5H584.2L583.4 280.5Z" style="stroke-width:0.8"/>
<path class="o" d="M559.3 285.3L569.5 291.8L567 297.6L556.3 290.8Z"/>
<circle class="o" cx="557.7" cy="288" r="3.1"/>
<circle class="o" cx="577.6" cy="300.2" r="11.2"/>
<ellipse class="d" cx="585" cy="304" rx="2.1" ry="2.7" transform="rotate(25 585 304)"/>
<path class="o" d="M573 310.5V328H574.6V331H579V328H580.2V310.5Z"/>
<circle class="o" cx="576.3" cy="334.2" r="3.4"/>
<path class="o" d="M570 344.5V350C572 353.5 580 353.5 582.2 350V344.5Z"/>
<ellipse class="o" cx="576.1" cy="344.5" rx="6.1" ry="2.8"/>
<ellipse class="d" cx="576.1" cy="345" rx="4" ry="1.7"/>
<path d="M536 262.4H566.8" class="al"/>
<path d="M569.3 262.4l-3.7 -1.6v3.2z" class="ah"/>
<text x="529" y="266.9" class="lb">5</text>
<path class="o" d="M444.3 315.7L473.8 335.4C476 337 474.5 340 472 339L440.5 325.2Z"/>
<ellipse class="o" cx="440.3" cy="319.2" rx="3" ry="6.6" transform="rotate(-24 440.3 319.2)"/>
<path class="d" d="M455 325l2 3M470 335.5l-1 2.6"/>
<path d="M403.9 321.4H433.1" class="al"/>
<path d="M435.6 321.4l-3.7 -1.6v3.2z" class="ah"/>
<text x="392.3" y="325.5" class="lb">10</text>
<path class="o" style="stroke:#4a4a4a;stroke-width:1.05" d="M476 347C476.5 343.5 477.3 341 478.7 339C481 337 483.5 336 486 335C490 333.5 493.5 331.8 496.7 329.7C498.5 328 500.5 326.5 502.7 325.7C505 325.2 507 325.8 508.7 327C510.5 328.8 511.3 331 511 333.7C510.6 336.5 509.8 339 508.7 341L500.7 359L492.7 377.7C491.5 381 489.5 384.5 487.3 386.3C485.5 387 483.5 386.8 482 385.7C480 384.5 478.8 382.5 478.3 380.3L478 355Z"/>
<circle class="o" cx="476" cy="375.7" r="2.5"/>
<circle class="n" cx="504.7" cy="335.7" r="3.9"/><circle class="n" cx="504.7" cy="335.7" r="1.9"/>
<circle class="n" cx="485.6" cy="346.3" r="4.6"/>
<circle class="n" cx="486" cy="380.3" r="3.5"/><circle class="d" cx="486" cy="380.3" r="1.7"/>
<path class="n" d="M481 341.5C486 338 492 335.5 497.5 332.5L500.5 336.5L498 343.5L494 352L489 365.5L485.5 374.5L481.5 372V353"/>
<path class="n" d="M490.5 342l6 2.5M489.5 349l5 4.5M484 352l9 8M492 352l-9 9M483 362l7.5 5M490 362l-7.5 7.5M497 334l1 9.5M501 341l3.5 3M499.5 346.5l3 2M497 353.5l2.5 1.5" style="stroke-width:0.8"/>
<path d="M489.5 343.5l3 -1.5l1.5 4l-2.5 2zM488 351l3.5 1l-1 3l-3 -1z" fill="#555"/>
<path class="n" style="stroke-width:0.75" d="M494.5 338l4.5 3.5M493 345.5l4.5 1M491.5 356l4 2.5M487 366.5l4 2M483.5 357.5l4.5 -5M484 369l3 -6M481.5 345v8M495.5 343l-2.5 6M499 337.5l-2.5 5"/>
<path d="M446.7 357H475.7" class="al"/>
<path d="M478.2 357l-3.7 -1.6v3.2z" class="ah"/>
<text x="439.6" y="360.8" class="lb">9</text>
<path class="n" d="M508 366.5V384.3M509.6 367V384.3M512.6 367V381.7M514.1 366.5V381.7" style="stroke:#666;stroke-width:0.8"/>
<ellipse class="o" cx="508.5" cy="359.2" rx="5" ry="7.3" transform="rotate(-18 508.5 359.2)" style="stroke:#333;stroke-width:1"/>
<ellipse class="n" cx="510.1" cy="359.59999999999997" rx="5" ry="7.3" transform="rotate(-18 510.1 359.59999999999997)" style="stroke:#333;stroke-width:1"/>
<ellipse class="n" cx="511.7" cy="360.0" rx="5" ry="7.3" transform="rotate(-18 511.7 360.0)" style="stroke:#333;stroke-width:1"/>
<ellipse class="n" cx="513.3" cy="360.4" rx="5" ry="7.3" transform="rotate(-18 513.3 360.4)" style="stroke:#333;stroke-width:1"/>
<ellipse class="n" cx="513.6" cy="360.6" rx="2.6" ry="4.3" transform="rotate(-18 513.6 360.6)"/>
<path d="M521.4 355.7H548" class="al"/>
<path d="M518.9 355.7l3.7 -1.6v3.2z" class="ah"/>
<text x="551.3" y="358.3" class="lb">8</text>
<path class="o" d="M561 366C561.5 361 568 358.6 576.5 358.8C580 358.8 583 359 585.5 359.2L591 358.3L611.8 370.8L612.5 376.4L618.8 388.8C620.5 393 621.8 397.5 622.2 401.3L623 405.5L632.6 411C633.8 412.5 634 418 633.5 420.5L615.4 432.5L578.5 455.3L544.4 470L501.7 482L454.1 455.3V435.3L466.3 428C474 425.5 482 423.5 489 422.7C496 422 504 422 510.3 422C514 417 518 412 522 407.5C525 404 528 401 531.2 398.3C534.5 396 538 393.5 540.3 391C541 388.5 541.5 386 541.8 383.3C542 381 542.5 379 543.2 377C544.5 374.5 546.5 373.3 548.7 372.9C550.5 372.8 552.5 373.5 554.3 374.3L559.8 372.9Z"/>
<ellipse class="n" cx="576.5" cy="368.2" rx="15.2" ry="9"/>
<path class="n" d="M559.5 371C559 378 566 383 576.5 383C587 383 594.5 378.5 594 371"/>
<ellipse class="n" cx="576.8" cy="367.6" rx="12.2" ry="6.7" style="stroke:#4f4f4f"/>
<path class="n" style="stroke-width:1.5;stroke:#3a3a3a;stroke-linecap:butt" d="M588.3 368.5v-3.1M587.5 370.0v-3.1M585.9 371.4v-3.1M583.8 372.6v-3.1M581.1 373.3v-3.1M578.2 373.8v-3.1M575.2 373.7v-3.1M572.3 373.3v-3.1M569.7 372.5v-3.1M567.5 371.3v-3.1M566.0 369.9v-3.1"/>
<path class="n" d="M565 368.5C567 373.5 586 373.5 588.5 368.5" style="stroke:#444"/>
<path class="d" style="stroke:#777" d="M572.3 370.5V364C572.3 360 581 360 581 364V370.5M576.6 361V371M574.4 361.5V370.8M578.8 361.5V370.8"/>
<path class="d" d="M577 355v8"/>
<path class="n" d="M591 358.3L588.5 361.5M592 367L605.5 375L612.5 376.4M596 362.5l6.5 4v4l-6-3.5M605.5 375L603.5 382.5"/>
<path class="d" d="M603.5 382.5L571 396.5M594 378.5L603.5 383.3"/>
<path class="n" d="M603.5 383.3L609 405.5L610.5 422M611.8 379.8L621.6 420.7"/>
<path class="n" d="M618.8 388.8c1.5 3 2.5 7 2.5 10" style="stroke-width:1.6;stroke:#333"/>
<path class="n" d="M623 405.5L624 418.5L633.5 412.5M624 418.5L621.6 420.7"/>
<ellipse class="d" cx="627.5" cy="416.5" rx="2.2" ry="1.2"/>
<path class="n" d="M541.8 383.3C542.5 386 543 387.3 543.9 388L559.8 398.5L564.7 401.3C568 400.5 570.5 398 571 395.8C571.8 392 571.8 389 571 386C569.5 383.5 566.5 382.5 563.5 383.2C561 384 559.5 386 559 388.5M548.7 372.9C551 377 554 380.5 559 383.5M554.3 374.3C556.5 377.5 559.5 380.5 563.5 383.2"/>
<ellipse class="n" cx="552.9" cy="382.6" rx="1.9" ry="2.9" transform="rotate(-20 552.9 382.6)"/>
<ellipse class="n" cx="566" cy="390.3" rx="2.3" ry="3.3" transform="rotate(-20 566 390.3)"/>
<path class="d" d="M541.8 383.3C539 388 537 393 535.5 397.2M564.7 401.3L570.2 403.4L577.2 430M561 401L555.5 424.7M570.2 403.4L603.5 386"/>
<path class="n" d="M569.4 402.5C572 406.5 573.8 411 574.9 415.7C577 421 578.8 426.5 579.8 431.6C580.3 435 580.5 438.5 580.5 441.3"/>
<path class="n" d="M574.9 415.7L603.3 400.4C605.5 402.5 607 405 607.5 408C608.2 412.5 608.3 418 608.2 422.6L581.1 438.6M597.1 403.9L607.8 412"/>
<path class="n" d="M583.2 445.5L621.6 420.7"/>
<path class="d" d="M580.5 441.3L583.2 445.5M577.2 430L555 440"/>
<path class="n" d="M529.8 413.6L545.8 421.2C542 425.5 537.5 430 533.3 434.4C531.5 436.5 529.8 438.6 528.4 440.6C526.3 438.8 525 436.5 524.3 434.4C523.8 430.5 524.2 426.5 525 423.3C526.3 420 528 416.5 529.8 413.6ZM525.7 426L540.2 418.4"/>
<path class="n" d="M528.4 440.6C526 444 523.5 446.5 520.8 448.3C515 451 508.5 452.8 502.8 453.8"/>
<path class="d" d="M502.8 453.8C508 457 514 458.5 520 458.5C526 458.5 531 457 534.5 455.5"/>
<path class="n" d="M533.3 446.9V455.2C534.5 457.5 536.5 458.4 538.8 458.7C541.5 459.6 544.8 459.8 547.2 459.4C549 458.8 550.2 457.8 550.6 456.6"/>
<path class="d" d="M541.5 430V448.5L546 452L560 446V428C557 423.5 549 424 541.5 430ZM552.5 425.5V449.5M538 454.5C541 452 546 452 549.5 454.5"/>
<path class="n" d="M501.7 462.7V482M454.1 435.3L461 434.7"/>
<path class="n" d="M454.1 455.3L501.7 482"/>
<path class="n" d="M489 422.7C491 425.5 492.5 428 493 430V436M479.7 440C487 438.5 494.5 436.5 501 434C506 431.5 510.5 427 514 422.5"/>
<path class="d" d="M466.3 428L468 431M493 436C497 434.5 501 432 504 429"/>
<path class="n" d="M461 434.7C461.2 438.5 461.4 442.5 461.7 446C462.5 452 465 457.5 469 459.3C471.5 458 472.5 455 472.3 451.3M466.3 431.3C466.5 436 466.7 440.5 467 444.7C467.8 447.5 469.3 449.3 471 450M466.3 431.3C468.5 431 470.3 432 471 434C471.5 437 471.7 439.5 471.7 442M456 438.5v4h3.5v5.5M456 447c2 3 4 6 7 8.5"/>
<path class="n" d="M475 448C475.8 453 477 458 478.3 462C480.5 467.5 484.5 471 489 471.3C492.5 470.5 494.8 467.5 495 463.3L494.3 455.3M483.7 443.3C484.5 448 485.3 452.5 486.3 456.7C487.5 460.5 489.3 463.3 491.7 464.7M483.7 443.3C486 442.5 488 443.5 489.3 445.5C491 449 493 452.5 494.3 455.3M474.3 454v12M476.5 452.5h4.5M472.3 445C474 443.5 476.5 443.5 478.5 444.5"/>
<path class="n" d="M479.7 440C481.5 441 483 442 483.7 443.3M496.3 457.5V479M499 459V480.5M494.3 455.3L501.7 462.7M495 463.3L499 466"/>
<path d="M478 444.3l2.2-1l1.2 1.4l-2 1.2z" fill="#333"/>
<path class="n" d="M464 434C464.2 438 464.4 442 464.8 445C465.8 449.5 468 453.5 470.5 455M479 447C479.8 452 481 457 482.3 461C484 465 486.5 467.5 489.5 468C492 467.5 493 465 493.2 462M455.3 436.5V453M455.3 440.6H460.3M455.3 447.1H460.5"/>
<path class="n" d="M502.3 453.3C508.5 452 514.5 450.5 519.7 448.7C523 446.5 525.8 444.3 527.7 442"/>
<path class="d" d="M501.7 462.7L544 451.5M544.4 470V466"/>
<path class="o" d="M616.3 448.5V455.5C618.8 459.1 630.8 459.1 633.3 455.5V448.5Z"/>
<path class="o" d="M617.8 441.7V446.8C615.5 447.5 615.5 449.8 618.3 450.5C621.8 451.5 627.8 451.5 631.3 450.5C634.0999999999999 449.8 634.0999999999999 447.5 631.8 446.8V441.7Z"/>
<path class="d" d="M617.8 446.1C620.8 448.3 628.8 448.3 631.8 446.1"/>
<ellipse class="o" cx="624.8" cy="441.7" rx="7" ry="3.1"/>
<ellipse class="d" cx="624.8" cy="442.0" rx="4.2" ry="1.9" style="stroke:#666"/>
<path class="o" d="M620.8000000000001 469.0V481.9C622.1 483.7 627.1 483.7 628.4 481.9V469.0Z"/>
<ellipse class="o" cx="624.6" cy="469.0" rx="3.8" ry="1.6"/>
<path class="o" d="M533.8 490.4V497.4C536.3 501.0 548.3 501.0 550.8 497.4V490.4Z"/>
<path class="o" d="M535.3 483.59999999999997V488.7C533.0 489.4 533.0 491.7 535.8 492.4C539.3 493.4 545.3 493.4 548.8 492.4C551.5999999999999 491.7 551.5999999999999 489.4 549.3 488.7V483.59999999999997Z"/>
<path class="d" d="M535.3 488.0C538.3 490.2 546.3 490.2 549.3 488.0"/>
<ellipse class="o" cx="542.3" cy="483.59999999999997" rx="7" ry="3.1"/>
<ellipse class="d" cx="542.3" cy="483.9" rx="4.2" ry="1.9" style="stroke:#666"/>
<path class="o" d="M538.4000000000001 510.90000000000003V524.2C539.7 526.0 544.7 526.0 546.0 524.2V510.90000000000003Z"/>
<ellipse class="o" cx="542.2" cy="510.90000000000003" rx="3.8" ry="1.6"/>
<ellipse class="o" cx="593.3" cy="470.4" rx="4.1" ry="5.3" transform="rotate(35 593.3 470.4)" style="stroke:#444;stroke-width:1"/>
<ellipse class="n" cx="593.6" cy="470.2" rx="2" ry="2.9" transform="rotate(35 593.6 470.2)" style="stroke:#444"/>
<path class="al" d="M594.1 508.4V478.5"/><path class="ah" d="M594.1 475.6l-1.9 4.2h3.8z"/>
<text x="590.2" y="516.5" class="lb">11</text>
<path class="g" d="M518.7 364.3L552.5 382.4"/>
<path class="g" d="M581.4 396V462.9L589 468"/>
<path d="M622.1 389.4H650" class="al"/>
<path d="M619.6 389.4l3.7 -1.6v3.2z" class="ah"/>
<text x="652.2" y="392.0" class="lb">1</text>
<path d="M636.3 447.7H664.2" class="al"/>
<path d="M633.8 447.7l3.7 -1.6v3.2z" class="ah"/>
<text x="665.6" y="450.3" class="lb">2</text>
<path d="M631.1 476.2H659.8" class="al"/>
<path d="M628.6 476.2l3.7 -1.6v3.2z" class="ah"/>
<text x="661.2" y="478.8" class="lb">3</text>
</g></svg>

</div></body></html>
